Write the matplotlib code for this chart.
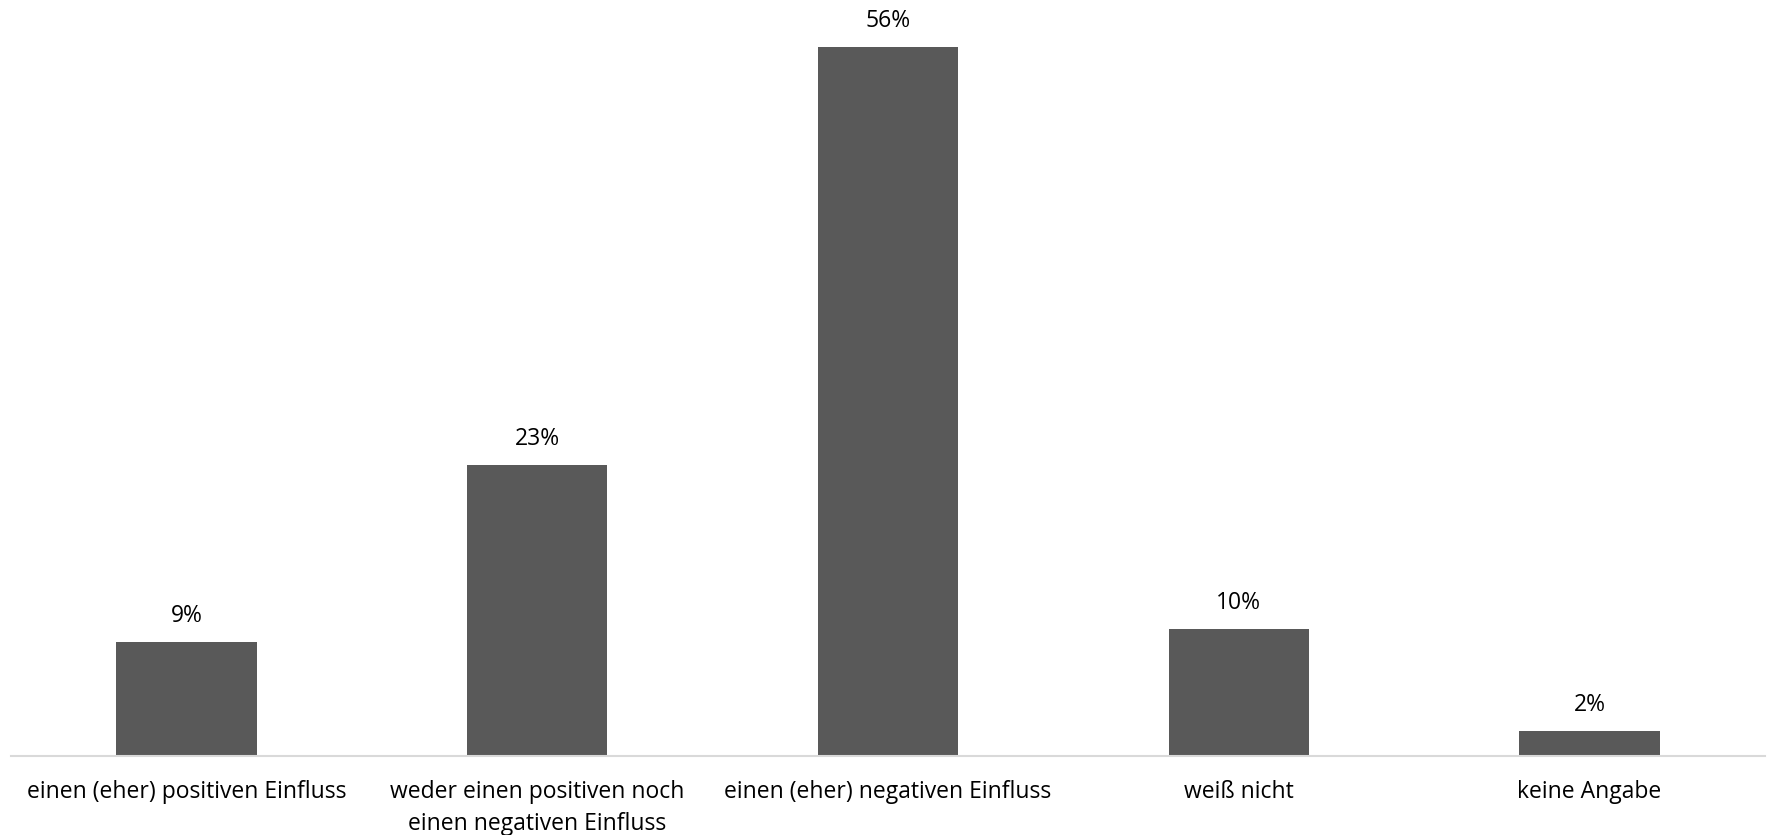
import matplotlib.pyplot as plt

# Data
categories = [
    "einen (eher) positiven Einfluss",
    "weder einen positiven noch\neinen negativen Einfluss",
    "einen (eher) negativen Einfluss",
    "weiß nicht",
    "keine Angabe",
]
values = [9, 23, 56, 10, 2]
labels = ["9%", "23%", "56%", "10%", "2%"]

plt.rcParams["font.family"] = ["Open Sans", "DejaVu Sans"]

fig = plt.figure(figsize=(17.69, 8.35), dpi=100)
ax = fig.add_axes([11 / 1769, 79 / 835, 1754 / 1769, 756 / 835])

x = range(len(categories))
ax.bar(x, values, width=0.4, color="#595959")

for xi, v, lab in zip(x, values, labels):
    ax.annotate(lab, (xi, v), xytext=(0, 10), textcoords="offset points",
                ha="center", va="bottom", fontsize=16.5, color="#000000")

ax.set_xlim(-0.5, 4.5)
ax.set_ylim(0, 59.7)
ax.set_xticks(list(x))
ax.set_xticklabels(categories, fontsize=16.5, linespacing=1.45)
ax.tick_params(axis="x", length=0, pad=17)
ax.set_yticks([])

for side in ["top", "left", "right"]:
    ax.spines[side].set_visible(False)
ax.spines["bottom"].set_color("#d9d9d9")
ax.spines["bottom"].set_linewidth(1.5)

plt.savefig("out.png", dpi=100)
